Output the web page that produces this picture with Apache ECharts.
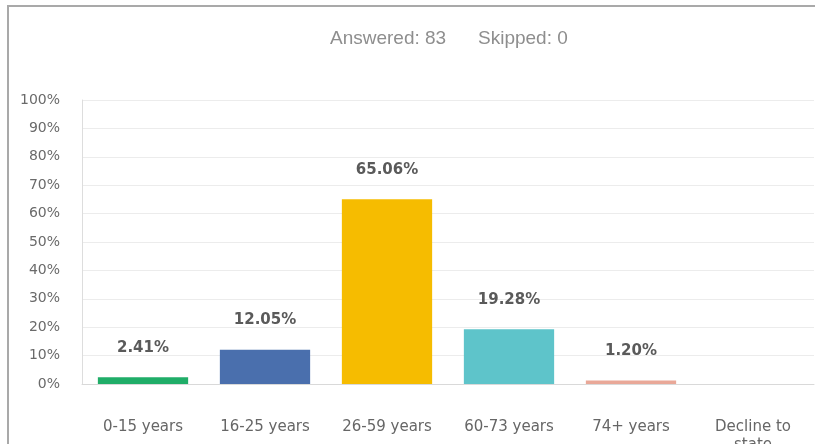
<!DOCTYPE html>
<html>
<head>
<meta charset="utf-8">
<script src="https://cdn.jsdelivr.net/npm/echarts@6/dist/echarts.min.js"></script>
<style>
  html, body { margin: 0; padding: 0; background: #fff; }
  #chart { position: absolute; left: 0; top: 0; width: 815px; height: 444px; }
  #frame { position: absolute; left: 7px; top: 5px; width: 820px; height: 460px;
           border-left: 2px solid #a9a9a9; border-top: 2px solid #a9a9a9; pointer-events: none; }
</style>
</head>
<body>
<div id="chart"></div>
<div id="frame"></div>
<script>
const categories = ['0-15 years', '16-25 years', '26-59 years', '60-73 years', '74+ years', 'Decline to\nstate'];
const values = [2.41, 12.05, 65.06, 19.28, 1.20, 0];
const barColors = ['#20ad68', '#4a6fad', '#f6bc00', '#5ec4ca', '#e9a898', '#b0b0b0'];
const answeredText = 'Answered: 83';
const skippedText = 'Skipped: 0';
const yTicks = [0, 10, 20, 30, 40, 50, 60, 70, 80, 90, 100];

const chart = echarts.init(document.getElementById('chart'), null, { renderer: 'canvas' });
chart.setOption({
  animation: false,
  backgroundColor: '#ffffff',
  title: [
    { text: answeredText, left: 325, top: 24,
      textStyle: { fontFamily: 'Liberation Sans', fontSize: 19, fontWeight: 'normal', color: '#8e8e8e' } },
    { text: skippedText, left: 473, top: 24,
      textStyle: { fontFamily: 'Liberation Sans', fontSize: 19, fontWeight: 'normal', color: '#8e8e8e' } }
  ],
  grid: { left: 82, right: 1, top: 100, bottom: 60, containLabel: false, outerBoundsMode: 'none' },
  xAxis: {
    type: 'category',
    data: categories,
    axisLine: { show: true, lineStyle: { color: '#d9d9d9', width: 1 } },
    axisTick: { show: false },
    axisLabel: {
      interval: 0, margin: 34,
      fontFamily: 'DejaVu Sans', fontSize: 15, color: '#666666', lineHeight: 18
    }
  },
  yAxis: {
    type: 'value',
    min: yTicks[0], max: yTicks[yTicks.length - 1], interval: 10,
    axisLine: { show: true, lineStyle: { color: '#dddddd', width: 1 } },
    axisTick: { show: false },
    splitLine: { show: true, lineStyle: { color: '#ececec', width: 1 } },
    axisLabel: {
      margin: 22,
      fontFamily: 'DejaVu Sans', fontSize: 14, color: '#6a6a6a',
      formatter: v => v + '%'
    }
  },
  series: [{
    type: 'bar',
    data: values.map((v, i) => ({ value: v, itemStyle: { color: barColors[i] } })),
    barCategoryGap: '26%',
    label: {
      show: true, position: 'top', distance: 22,
      fontFamily: 'DejaVu Sans', fontSize: 15, fontWeight: 'bold', color: '#5a5a5a',
      formatter: p => p.value > 0 ? p.value.toFixed(2) + '%' : ''
    }
  }]
});
</script>
</body>
</html>
